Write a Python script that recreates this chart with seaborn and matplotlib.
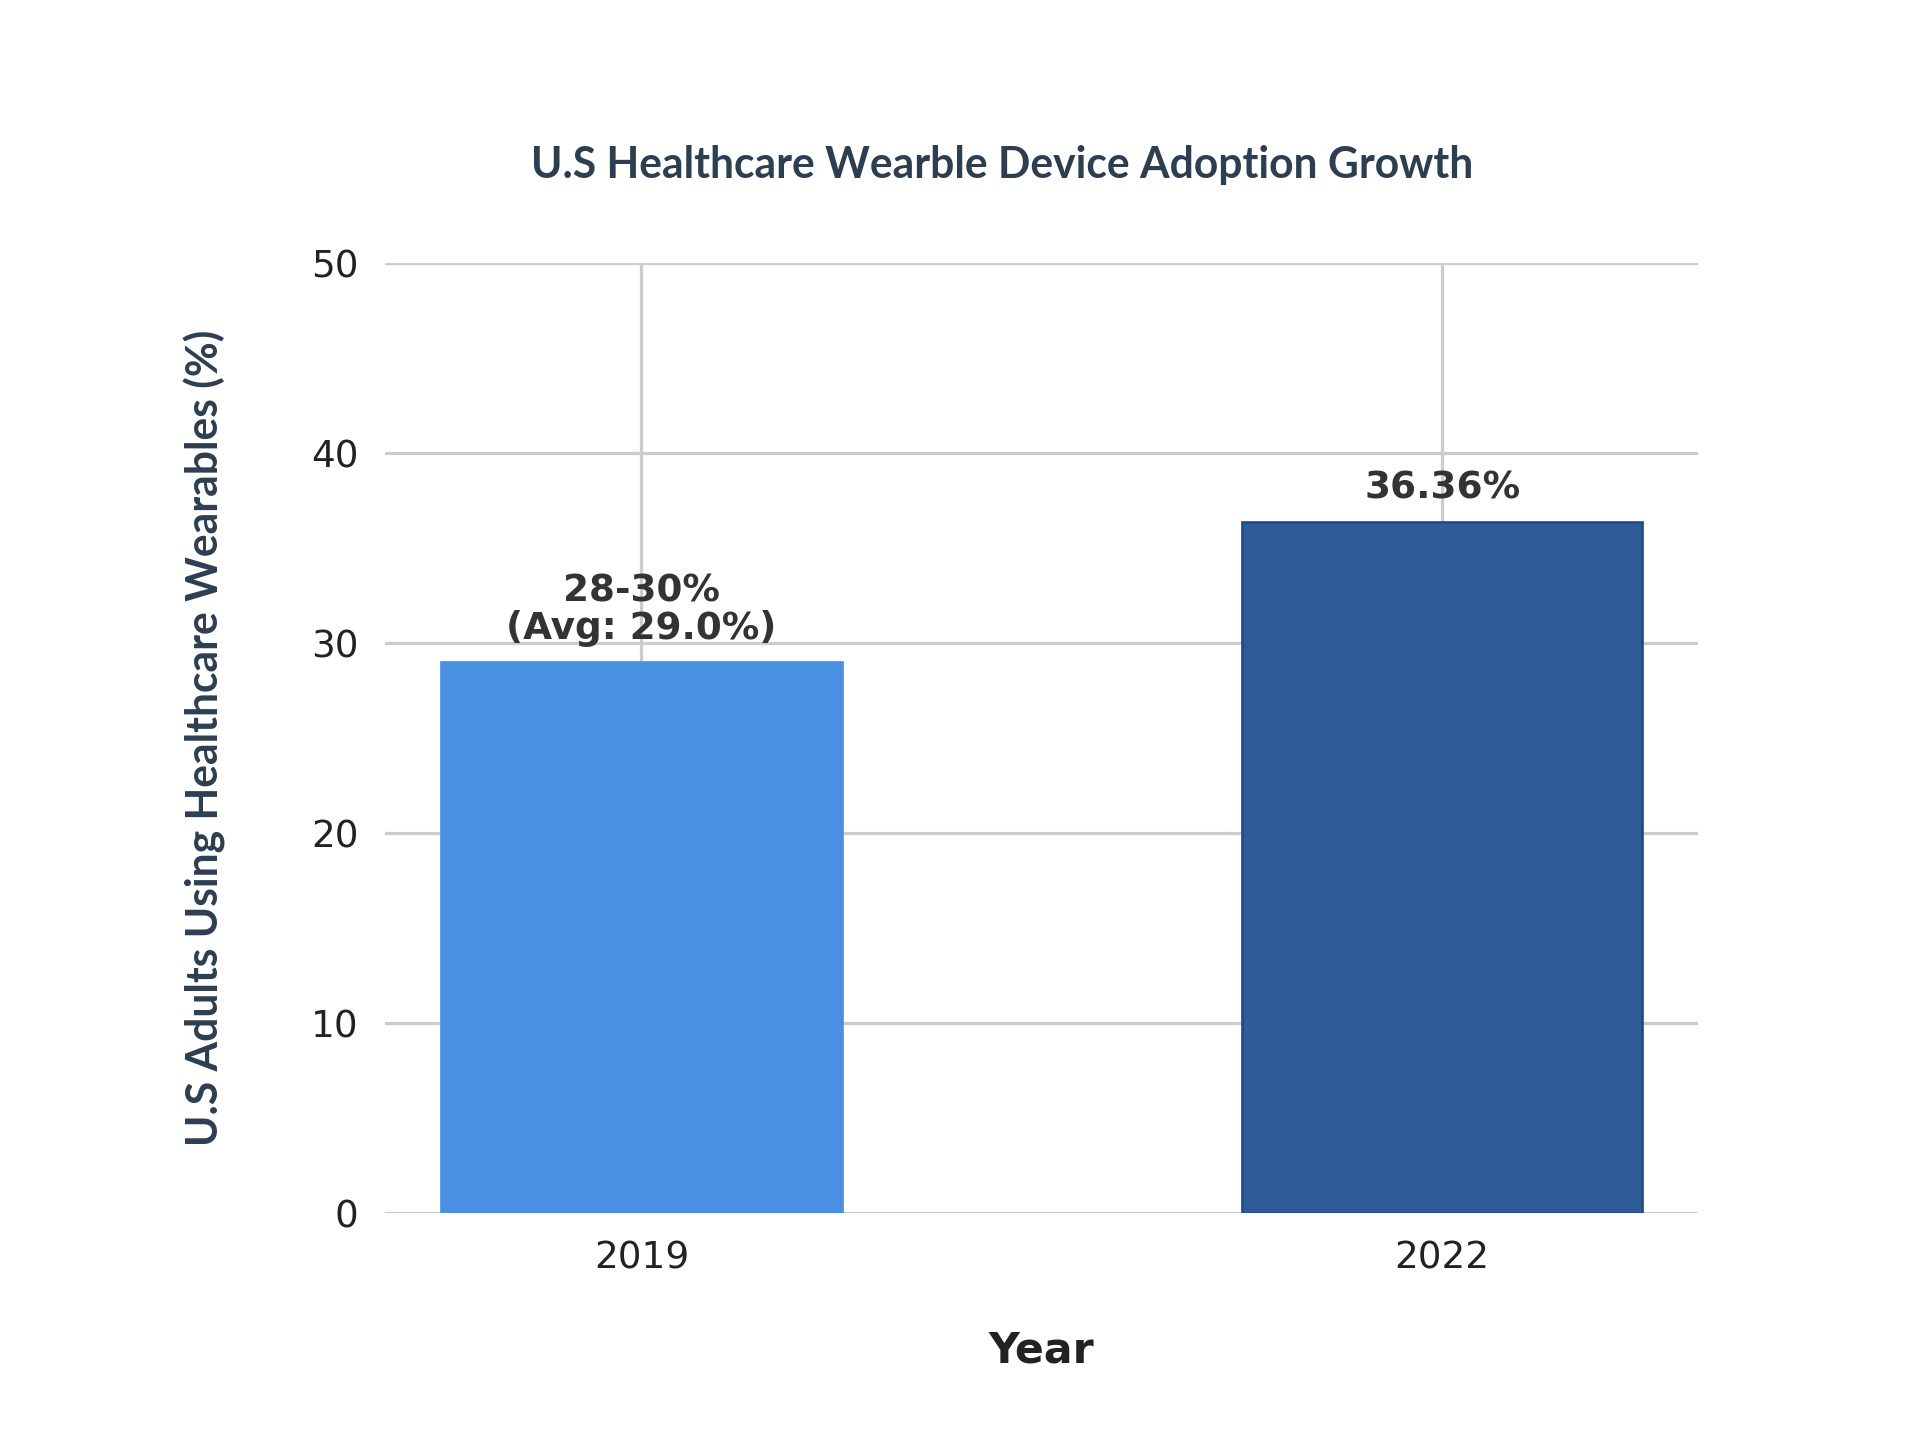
import matplotlib
matplotlib.use("Agg")
import matplotlib.pyplot as plt
import seaborn as sns
import pandas as pd

years = ["2019", "2022"]
values = [29.0, 36.36]
labels = ["28-30%\n(Avg: 29.0%)", "36.36%"]
colors = ["#4A90E2", "#2E5C99"]
edges = ["#4A90E2", "#1F4A8A"]
yticks = [0, 10, 20, 30, 40, 50]

sns.set_theme(style="whitegrid")
plt.rcParams['font.family'] = ['DejaVu Sans']

df = pd.DataFrame({"Year": years, "Value": values})
fig = plt.figure(figsize=(10, 1456/192), dpi=192)
ax = fig.add_axes([0.2006, 0.167, 0.684, 0.6524])
sns.barplot(data=df, x="Year", y="Value", hue="Year", palette=colors, width=0.5,
            legend=False, ax=ax, saturation=1)
for p, ec in zip(ax.patches, edges):
    p.set_edgecolor(ec); p.set_linewidth(1)
ax.set_xlim(-0.32, 1.32)
ax.set_ylim(0, 50)
ax.set_yticks(yticks)
ax.grid(True, color="#cccccc", linewidth=1.2)
ax.set_axisbelow(True)
for s in ax.spines.values():
    s.set_visible(False)
ax.tick_params(axis="both", labelsize=14, colors="#222222", length=0, pad=10)
for i, (v, t) in enumerate(zip(values, labels)):
    ax.text(i, v + 0.8, t, ha="center", va="bottom", fontsize=14, fontweight="bold",
            color="#333333", linespacing=1.0)
ax.set_xlabel("Year", fontsize=16, fontweight="bold", color="#222222", labelpad=20)
ax.set_ylabel("U.S Adults Using Healthcare Wearables (%)", fontsize=16, fontweight="bold",
              color="#2d3e50", family=["Lato", "DejaVu Sans"], labelpad=32)
fig.text(0.522, 0.887, "U.S Healthcare Wearble Device Adoption Growth", ha="center", va="center",
         fontsize=16, fontweight="bold", color="#2d3e50", family=["Lato", "DejaVu Sans"])
fig.savefig("out.png", dpi=192, facecolor="white")
